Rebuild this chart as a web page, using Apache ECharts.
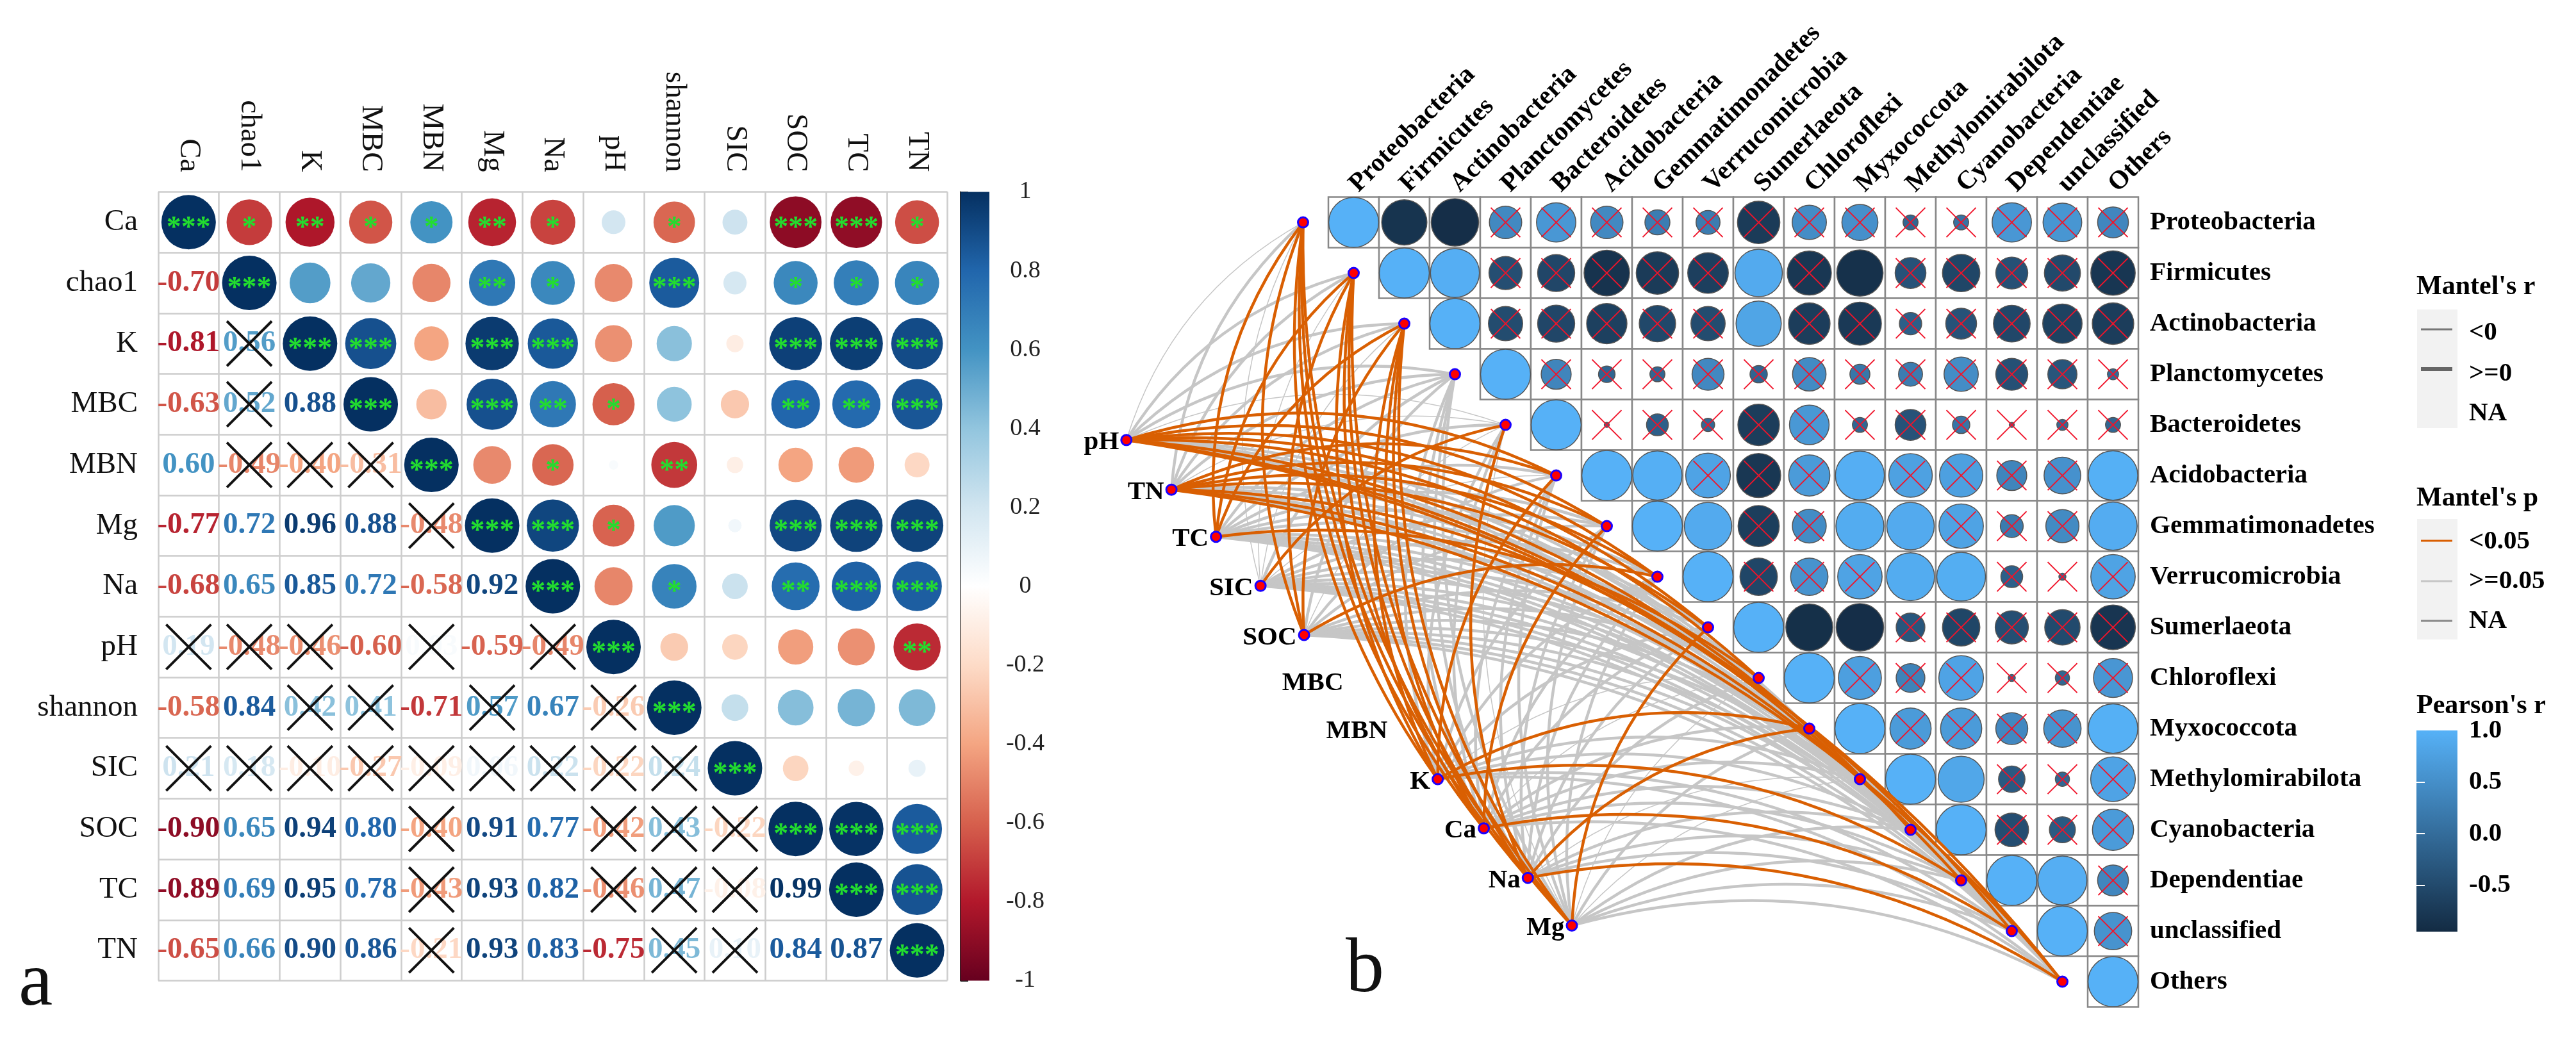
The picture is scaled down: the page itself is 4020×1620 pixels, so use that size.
<!DOCTYPE html>
<html><head><meta charset="utf-8">
<style>html,body{margin:0;padding:0;background:#fff}#c{width:4020px;height:1620px}</style>
<script src="https://cdn.jsdelivr.net/npm/echarts@6/dist/echarts.min.js"></script>
</head><body><div id="c"></div>
<script>
// ---------- panel a data ----------
const aVars=['Ca','chao1','K','MBC','MBN','Mg','Na','pH','shannon','SIC','SOC','TC','TN'];
const aLower=[[],
[-0.70],
[-0.81,0.56],
[-0.63,0.52,0.88],
[0.60,-0.49,-0.40,-0.31],
[-0.77,0.72,0.96,0.88,-0.48],
[-0.68,0.65,0.85,0.72,-0.58,0.92],
[0.19,-0.48,-0.46,-0.60,0.03,-0.59,-0.49],
[-0.58,0.84,0.42,0.41,-0.71,0.57,0.67,-0.26],
[0.21,0.18,-0.10,-0.27,-0.09,0.06,0.22,-0.22,0.24],
[-0.90,0.65,0.94,0.80,-0.40,0.91,0.77,-0.42,0.43,-0.22],
[-0.89,0.69,0.95,0.78,-0.43,0.93,0.82,-0.46,0.47,-0.08,0.99],
[-0.65,0.66,0.90,0.86,-0.21,0.93,0.83,-0.75,0.45,0.10,0.84,0.87]];
const aStars=[
[3,1,2,1,1,2,1,0,1,0,3,3,1],
[3,0,0,0,2,1,0,3,0,1,1,1],
[3,3,0,3,3,0,0,0,3,3,3],
[3,0,3,2,1,0,0,2,2,3],
[3,0,1,0,2,0,0,0,0],
[3,3,1,0,0,3,3,3],
[3,0,1,0,2,3,3],
[3,0,0,0,0,2],
[3,0,0,0,0],
[3,0,0,0],
[3,3,3],
[3,3],
[3]];
const rdbu=['#67001F','#B2182B','#D6604D','#F4A582','#FDDBC7','#FFFFFF','#D1E5F0','#92C5DE','#4393C3','#2166AC','#053061'];
// ---------- panel b data ----------
const taxa=['Proteobacteria','Firmicutes','Actinobacteria','Planctomycetes','Bacteroidetes','Acidobacteria','Gemmatimonadetes','Verrucomicrobia','Sumerlaeota','Chloroflexi','Myxococcota','Methylomirabilota','Cyanobacteria','Dependentiae','unclassified','Others'];
const pearson=[
[1,-0.82,-0.90,0.42,0.62,0.42,0.25,0.23,-0.72,0.47,0.52,-0.09,0.09,0.62,0.60,0.38],
[1,0.96,-0.44,-0.55,-0.83,-0.72,-0.66,0.90,-0.78,-0.86,-0.38,-0.56,-0.41,-0.52,-0.79],
[1,-0.47,-0.55,-0.65,-0.53,-0.47,0.82,-0.69,-0.74,-0.20,-0.38,-0.54,-0.62,-0.69],
[1,0.36,-0.11,-0.09,0.41,-0.12,0.45,0.16,0.23,0.47,-0.41,-0.34,-0.05],
[1,-0.01,-0.19,-0.07,-0.69,0.63,-0.09,-0.38,0.12,-0.01,-0.05,-0.09],
[1,0.97,0.80,-0.78,0.68,0.96,0.76,0.75,0.36,0.54,0.98],
[1,0.90,-0.68,0.46,0.92,0.90,0.79,0.21,0.44,0.93],
[1,-0.56,0.56,0.79,0.92,0.95,-0.19,-0.02,0.79],
[1,-0.88,-0.90,-0.33,-0.56,-0.44,-0.50,-0.80],
[1,0.74,0.33,0.80,-0.02,-0.08,0.61],
[1,0.68,0.68,0.41,0.56,0.98],
[1,0.85,-0.28,-0.08,0.80],
[1,-0.45,-0.27,0.68],
[1,0.96,0.38],
[1,0.56],
[1]];
// columns (by index) in each row that are significant (no red cross)
const pearsonSig=[[0,1,2],[1,2,8,10],[2,8],[3],[4],[5,6,10,15],[6,7,10,11,15],[7,11,12],[8,9,10],[9],[10,15],[11,12],[12],[13,14],[14],[15]];
const pearsonRange=[-0.95,1];
const pearsonTicks=[-0.5,0,0.5,1];
// environmental nodes: position along the left-hand curve, in matrix cell units
const envNames=['pH','TN','TC','SIC','SOC','K','Ca','Na','Mg'];
const envU=[-3.99,-3.10,-2.22,-1.34,-0.48,2.16,3.07,3.94,4.81];
const envV=[4.80,5.78,6.71,7.68,8.65,11.50,12.47,13.45,14.39];
const labelOnlyNames=['MBC','MBN'];
const labelOnlyU=[0.38,1.25];
const labelOnlyV=[9.60,10.55];
// taxa reached with Mantel p<0.05, per environmental node
const mantelSig=[[5,6,7,8,9,12,14,15],[5,6,7,8,11,13,15],[0,1,2,9],[4],[0,1,2,7],[0,1,2,5,10,13],[0,1,2,6,14],[0,1,2,4,10,15],[0,1,2,8]];
// taxa with thin (r<0) links, per environmental node
const mantelThin=[[0,4],[4],[],[0,1,2,5],[4],[9],[9],[11],[4,9,11]];

// ---------- helpers ----------
const serif='"Liberation Serif"';
function hex(c){return [1,3,5].map(i=>parseInt(c.substr(i,2),16));}
function mix(a,b,t){const A=hex(a),B=hex(b);return 'rgb('+A.map((v,i)=>Math.round(v+(B[i]-v)*t)).join(',')+')';}
function rdbuColor(r){const p=(Math.max(-1,Math.min(1,r))+1)/2*(rdbu.length-1);const i=Math.min(rdbu.length-2,Math.floor(p));return mix(rdbu[i],rdbu[i+1],p-i);}
function pearsonColor(r){return mix('#132B43','#56B1F7',(r-pearsonRange[0])/(pearsonRange[1]-pearsonRange[0]));}
const crossPath='path://M0 0L100 100M100 0L0 100';

// ---------- series data ----------
const aCircles=[],aTexts=[],aCross=[];
aVars.forEach((_,y)=>{
  aStars[y].forEach((s,k)=>{
    const x=y+k; const r=k===0?1:aLower[x][y];
    aCircles.push({value:[x,y,r],itemStyle:{color:rdbuColor(r),opacity:1},starCount:s});
  });
  aLower[y].forEach((r,x)=>{
    aTexts.push({value:[x,y,r],label:{color:rdbuColor(r)}});
    if(aStars[x][y-x]===0)aCross.push([x,y]);
  });
});
const bCells=[],bCircles=[],bCross=[];
pearson.forEach((row,y)=>row.forEach((r,k)=>{
  const x=y+k; bCells.push([x,y]);
  bCircles.push({value:[x,y,r],itemStyle:{color:pearsonColor(r),opacity:1}});
  if(!pearsonSig[y].includes(x))bCross.push([x,y]);
}));
const greyLinks=[],orangeLinks=[];
envNames.forEach((n,e)=>{
  taxa.forEach((t,i)=>{
    const coords=[[envU[e],envV[e]],[i-0.5,i+0.5]];
    if(mantelSig[e].includes(i))orangeLinks.push({coords});
    else greyLinks.push({coords,lineStyle:{width:mantelThin[e].includes(i)?1.5:4.5}});
  });
});
const hidden={show:false};
const nodeStyle={color:'#ff0000',borderColor:'#1a00ff',borderWidth:3,opacity:1};
const option={
  animation:false,backgroundColor:'#fff',
  grid:[
    {left:247,top:299.5,width:1231.5,height:1231},
    {left:1499,top:299.5,width:45,height:1231},
    {left:2073,top:307.6,width:1264,height:1264},
    {left:1678,top:307.6,width:1659,height:1264},
    {left:3771,top:1140,width:64,height:314}
  ],
  xAxis:[
    {gridIndex:0,type:'category',position:'top',data:aVars,axisLine:{show:false},axisTick:{show:false},
     splitLine:{show:true,interval:0,lineStyle:{color:'#cdcdcd',width:2.5}},
     axisLabel:{interval:0,rotate:90,margin:31,fontFamily:serif,fontSize:47,color:'#111'}},
    {gridIndex:1,type:'value',min:0,max:1,show:false},
    {gridIndex:2,type:'category',position:'top',data:taxa,axisLine:{show:false},axisTick:{show:false},
     axisLabel:{interval:0,rotate:-45,margin:14,fontFamily:serif,fontSize:41,fontWeight:'bold',color:'#000'}},
    {gridIndex:3,type:'value',min:-5,max:16,show:false},
    {gridIndex:4,type:'value',min:0,max:1,show:false}
  ],
  yAxis:[
    {gridIndex:0,type:'category',inverse:true,data:aVars,axisLine:{show:false},axisTick:{show:false},
     splitLine:{show:true,interval:0,lineStyle:{color:'#cdcdcd',width:2.5}},
     axisLabel:{interval:0,margin:32,padding:[6,0,0,0],fontFamily:serif,fontSize:47,color:'#111'}},
    {gridIndex:1,type:'value',position:'right',min:-1,max:1,interval:0.2,splitLine:hidden,
     axisLine:{show:true,lineStyle:{color:'#222',width:2}},
     axisTick:{show:true,length:12,lineStyle:{color:'#222',width:2}},
     axisLabel:{margin:56,align:'center',fontFamily:serif,fontSize:38,color:'#222'}},
    {gridIndex:2,type:'category',position:'right',inverse:true,data:taxa,axisLine:{show:false},axisTick:{show:false},
     axisLabel:{interval:0,margin:18,padding:[6,0,0,0],fontFamily:serif,fontSize:41,fontWeight:'bold',color:'#000'}},
    {gridIndex:3,type:'value',min:0,max:16,inverse:true,show:false},
    {gridIndex:4,type:'value',position:'right',min:pearsonRange[0],max:pearsonRange[1],splitLine:hidden,
     axisLine:{show:false},
     axisTick:{show:true,inside:true,length:13,customValues:pearsonTicks.slice(0,3),lineStyle:{color:'#fff',width:2}},
     axisLabel:{margin:18,customValues:pearsonTicks,fontFamily:serif,fontSize:41,fontWeight:'bold',color:'#000',
       formatter:v=>v===0?'0.0':(Number.isInteger(v)?v.toFixed(1):String(v))},z:5},
    {gridIndex:4,type:'value',position:'left',min:pearsonRange[0],max:pearsonRange[1],splitLine:hidden,
     axisLine:{show:false},axisLabel:{show:false},
     axisTick:{show:true,inside:true,length:13,customValues:pearsonTicks.slice(0,3),lineStyle:{color:'#fff',width:2}},z:5}
  ],
  series:[
    // --- panel a ---
    {type:'scatter',xAxisIndex:0,yAxisIndex:0,data:aCircles,symbol:'circle',
     symbolSize:v=>85*Math.sqrt(Math.abs(v[2])),z:3,silent:true,
     label:{show:true,position:'inside',offset:[0,10],fontFamily:serif,fontSize:46,fontWeight:'bold',color:'#22de2e',
       formatter:p=>'*'.repeat(p.data.starCount)}},
    {type:'scatter',xAxisIndex:0,yAxisIndex:0,data:aTexts,symbolSize:1,itemStyle:{color:'transparent',opacity:1},z:3,silent:true,
     label:{show:true,position:'inside',fontFamily:serif,fontSize:47,fontWeight:'bold',
       formatter:p=>p.value[2].toFixed(2)}},
    {type:'scatter',xAxisIndex:0,yAxisIndex:0,data:aCross,symbol:crossPath,symbolSize:70,z:4,silent:true,
     itemStyle:{color:'transparent',borderColor:'#111',borderWidth:4,opacity:1}},
    {type:'custom',xAxisIndex:1,yAxisIndex:1,data:[[0]],z:2,silent:true,clip:false,
     renderItem:(p,api)=>{const a=api.coord([0,1]),b=api.coord([1,-1]);
       return {type:'rect',shape:{x:a[0],y:a[1],width:b[0]-a[0],height:b[1]-a[1]},
         style:{fill:new echarts.graphic.LinearGradient(0,1,0,0,rdbu.map((c,i)=>({offset:i/(rdbu.length-1),color:c})))}};}},
    // --- panel b matrix ---
    {type:'custom',xAxisIndex:2,yAxisIndex:2,data:bCells,z:2,silent:true,clip:false,
     renderItem:(p,api)=>{const c=api.coord([api.value(0),api.value(1)]),s=api.size([1,1]);
       return {type:'rect',shape:{x:c[0]-s[0]/2,y:c[1]-s[1]/2,width:s[0],height:s[1]},
         style:{fill:'#fff',stroke:'#888',lineWidth:2.5}};}},
    {type:'scatter',xAxisIndex:2,yAxisIndex:2,data:bCircles,symbol:'circle',z:3,silent:true,
     symbolSize:v=>78*Math.sqrt(Math.abs(v[2])),
     itemStyle:{borderColor:'#555',borderWidth:1.5,opacity:1}},
    {type:'scatter',xAxisIndex:2,yAxisIndex:2,data:bCross,symbol:crossPath,symbolSize:46,z:4,silent:true,
     itemStyle:{color:'transparent',borderColor:'#f0142a',borderWidth:2,opacity:1}},
    // --- panel b network ---
    {type:'lines',coordinateSystem:'cartesian2d',xAxisIndex:3,yAxisIndex:3,data:greyLinks,z:5,silent:true,
     lineStyle:{color:'#c6c6c6',curveness:0.2,opacity:1}},
    {type:'lines',coordinateSystem:'cartesian2d',xAxisIndex:3,yAxisIndex:3,data:orangeLinks,z:6,silent:true,
     lineStyle:{color:'#d95f02',width:4.5,curveness:0.2,opacity:1}},
    {type:'scatter',xAxisIndex:3,yAxisIndex:3,symbol:'circle',symbolSize:16,z:7,silent:true,clip:false,
     data:envNames.map((n,i)=>({name:n,value:[envU[i],envV[i]]})),
     itemStyle:nodeStyle,
     label:{show:true,position:'left',distance:2,offset:[0,4],formatter:'{b}',fontFamily:serif,fontSize:41,fontWeight:'bold',color:'#000'}},
    {type:'scatter',xAxisIndex:3,yAxisIndex:3,symbol:'circle',symbolSize:16,z:8,silent:true,clip:false,
     data:taxa.map((t,i)=>[i-0.5,i+0.5]),
     itemStyle:nodeStyle},
    {type:'scatter',xAxisIndex:3,yAxisIndex:3,symbolSize:1,z:7,silent:true,itemStyle:{color:'transparent',opacity:1},
     data:labelOnlyNames.map((n,i)=>({name:n,value:[labelOnlyU[i],labelOnlyV[i]]})),
     label:{show:true,position:'left',distance:6,formatter:'{b}',fontFamily:serif,fontSize:41,fontWeight:'bold',color:'#000'}},
    // --- Pearson colour bar ---
    {type:'custom',xAxisIndex:4,yAxisIndex:4,data:[[0]],z:1,silent:true,clip:false,
     renderItem:(p,api)=>{const a=api.coord([0,pearsonRange[1]]),b=api.coord([1,pearsonRange[0]]);
       return {type:'rect',shape:{x:a[0],y:a[1],width:b[0]-a[0],height:b[1]-a[1]},
         style:{fill:new echarts.graphic.LinearGradient(0,1,0,0,[{offset:0,color:'#132B43'},{offset:1,color:'#56B1F7'}])}};}}
  ],
  graphic:{elements:[
    ...[['a',29,1536],['b',2100,1515]].map(t=>({type:'text',x:t[1],y:t[2],style:{text:t[0],font:'120px '+serif,fill:'#111',textVerticalAlign:'middle'}})),
    ...[['Mantel\'s r',448],['Mantel\'s p',778],['Pearson\'s r',1102]].map(t=>({type:'text',x:3771,y:t[1],style:{text:t[0],font:'bold 42px '+serif,fill:'#000',textVerticalAlign:'middle'}})),
    {type:'rect',shape:{x:3772,y:483,width:63,height:185},style:{fill:'#f2f2f2'}},
    {type:'rect',shape:{x:3772,y:810,width:63,height:188},style:{fill:'#f2f2f2'}},
    ...[[514,'#777',3],[576,'#666',6],[844,'#d95f02',3],[907,'#c6c6c6',3],[969,'#888',3]].map(l=>({type:'line',shape:{x1:3778,y1:l[0],x2:3827,y2:l[0]},style:{stroke:l[1],lineWidth:l[2]}})),
    ...[['<0',519],['>=0',583],['NA',645],['<0.05',845],['>=0.05',907],['NA',969]].map(t=>({type:'text',x:3853,y:t[1],style:{text:t[0],font:'bold 41px '+serif,fill:'#000',textVerticalAlign:'middle'}}))
  ]}
};
const chart=echarts.init(document.getElementById('c'));
chart.setOption(option);
</script></body></html>
